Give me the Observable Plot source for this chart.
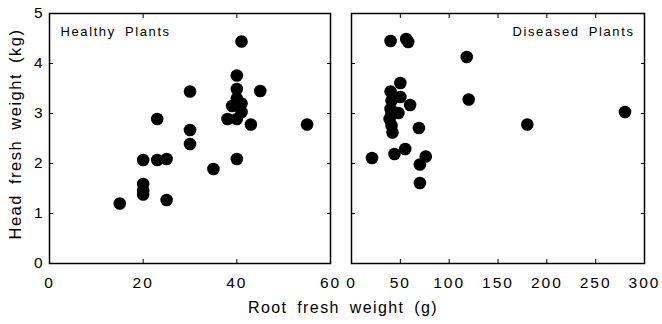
<!DOCTYPE html>
<html>
<head>
<meta charset="utf-8">
<script src="https://cdn.jsdelivr.net/npm/d3@7"></script>
<script src="https://cdn.jsdelivr.net/npm/@observablehq/plot@0.6"></script>
<style>
  html, body { margin: 0; padding: 0; background: white; }
  #wrap { position: relative; width: 662px; height: 324px; overflow: hidden; font-family: "Liberation Sans", Arial, Helvetica, sans-serif; color: black; }
  #left { position: absolute; left: 0; top: 0; }
  #right { position: absolute; left: 340px; top: 0; }
  #xlabel { position: absolute; left: 0; width: 686px; top: 299px; text-align: center; font-size: 16px; letter-spacing: 1.4px; word-spacing: 4px; }
  #ylabel { position: absolute; left: 15px; top: 134px; transform: translate(-50%, -50%) rotate(-90deg); white-space: nowrap; font-size: 16.5px; letter-spacing: 1.5px; word-spacing: 4px; }
  #wrap svg g[aria-label="x-axis tick label"] { font-size: 15.5px !important; letter-spacing: 2px; }
  #wrap svg g[aria-label="y-axis tick label"] { font-size: 15.5px !important; }
  #wrap svg g[aria-label="text"] { font-size: 13px !important; letter-spacing: 1.6px; word-spacing: 4px; }
</style>
</head>
<body>
<div id="wrap">
  <div id="left"></div>
  <div id="right"></div>
  <div id="xlabel">Root fresh weight (g)</div>
  <div id="ylabel">Head fresh weight (kg)</div>
</div>
<script>
// Healthy plants: root fresh weight (g), head fresh weight (kg)
const healthyRoot = [15, 20, 20, 20, 20, 23, 25, 25, 23, 30, 30, 30, 35, 40, 38, 40, 39, 41, 41, 40, 40, 40, 41, 45, 43, 55];
const healthyHead = [1.20, 1.38, 1.46, 1.59, 2.07, 2.07, 2.09, 1.27, 2.89, 3.44, 2.67, 2.39, 1.89, 2.09, 2.89, 2.89, 3.15, 3.20, 3.03, 3.30, 3.49, 3.76, 4.44, 3.45, 2.78, 2.78];

// Diseased plants
const diseasedRoot = [40, 56, 58, 118, 50, 40, 50, 41, 60, 120, 280, 40, 48, 41, 39, 41, 42, 69, 180, 21, 44, 55, 76, 70, 70];
const diseasedHead = [4.45, 4.49, 4.43, 4.13, 3.61, 3.44, 3.33, 3.26, 3.17, 3.28, 3.03, 3.09, 3.01, 2.99, 2.89, 2.76, 2.62, 2.71, 2.78, 2.11, 2.19, 2.29, 2.14, 1.98, 1.61];

const yTicks = [0, 1, 2, 3, 4, 5];
const xTicksHealthy = [0, 20, 40, 60];
const xTicksDiseased = [0, 50, 100, 150, 200, 250, 300];
const panelTitles = ["Healthy Plants", "Diseased Plants"];

const healthy = healthyRoot.map((r, i) => ({root: r, head: healthyHead[i]}));
const diseased = diseasedRoot.map((r, i) => ({root: r, head: diseasedHead[i]}));

const fmt = d => String(d);

const common = {
  height: 295,
  marginTop: 13,
  marginBottom: 32,
  y: {domain: [0, 5]},
  style: {fontFamily: "'Liberation Sans', Arial, Helvetica, sans-serif", fontSize: "15px", color: "black", background: "white", overflow: "visible"}
};

const left = Plot.plot({
  ...common,
  width: 340,
  marginLeft: 49,
  marginRight: 10,
  x: {domain: [0, 60]},
  marks: [
    Plot.axisX(xTicksHealthy, {anchor: "bottom", tickSize: -4, tickPadding: 17, label: null, tickFormat: fmt}),
    Plot.axisX(xTicksHealthy, {anchor: "top", tickSize: -4, text: null, label: null}),
    Plot.axisY(yTicks, {anchor: "left", tickSize: -4, tickPadding: 11, label: null, tickFormat: fmt}),
    Plot.axisY(yTicks, {anchor: "right", tickSize: -4, text: null, label: null}),
    Plot.frame({stroke: "black", strokeWidth: 1.5}),
    Plot.dot(healthy, {x: "root", y: "head", r: 6.3, fill: "black", stroke: null}),
    Plot.text([panelTitles[0]], {frameAnchor: "top-left", dx: 11, dy: 13, textAnchor: "start"})
  ]
});

const right = Plot.plot({
  ...common,
  width: 322,
  marginLeft: 11,
  marginRight: 18,
  x: {domain: [0, 300]},
  marks: [
    Plot.axisX(xTicksDiseased, {anchor: "bottom", tickSize: -4, tickPadding: 17, label: null, tickFormat: fmt}),
    Plot.axisX(xTicksDiseased, {anchor: "top", tickSize: -4, text: null, label: null}),
    Plot.axisY(yTicks, {anchor: "left", tickSize: -4, text: null, label: null}),
    Plot.axisY(yTicks, {anchor: "right", tickSize: -4, text: null, label: null}),
    Plot.frame({stroke: "black", strokeWidth: 1.5}),
    Plot.dot(diseased, {x: "root", y: "head", r: 6.3, fill: "black", stroke: null}),
    Plot.text([panelTitles[1]], {frameAnchor: "top-right", dx: -10, dy: 13, textAnchor: "end"})
  ]
});

document.getElementById("left").appendChild(left);
document.getElementById("right").appendChild(right);
</script>
</body>
</html>
